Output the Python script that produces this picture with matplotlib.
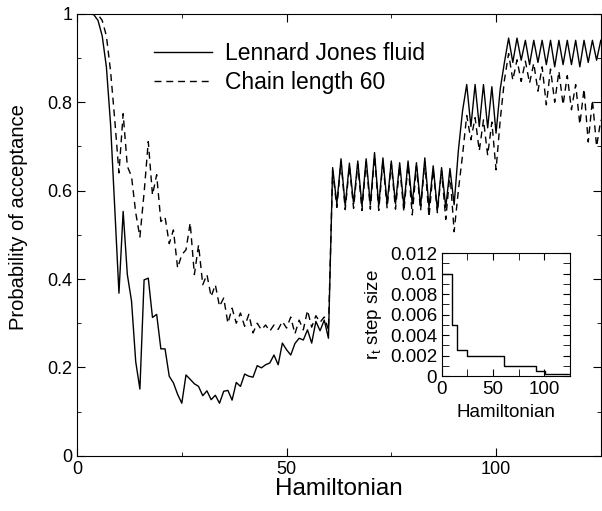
import numpy as np
import matplotlib
matplotlib.use('Agg')
import matplotlib.pyplot as plt
from matplotlib.ticker import MultipleLocator, FixedLocator, FixedFormatter

plt.rcParams['font.family'] = ['Liberation Sans', 'DejaVu Sans']

# acceptance probability vs Hamiltonian index (0..125)
hamiltonian = list(range(126))

lj_fluid = [
    1.0, 1.0, 1.0, 1.0, 0.998, 0.985, 0.95, 0.88, 0.75, 0.56,
    0.368, 0.553, 0.41, 0.35, 0.213, 0.151, 0.398, 0.402, 0.313, 0.32,
    0.242, 0.242, 0.18, 0.165, 0.139, 0.119, 0.183, 0.173, 0.163, 0.157,
    0.136, 0.147, 0.127, 0.137, 0.119, 0.146, 0.148, 0.126, 0.166, 0.157,
    0.185, 0.18, 0.178, 0.204, 0.199, 0.206, 0.21, 0.228, 0.206, 0.255,
    0.24, 0.228, 0.254, 0.266, 0.262, 0.285, 0.255, 0.304, 0.283, 0.307,
    0.266, 0.652, 0.57, 0.672, 0.565, 0.662, 0.57, 0.667, 0.565, 0.672,
    0.568, 0.686, 0.565, 0.674, 0.57, 0.667, 0.57, 0.663, 0.565, 0.667,
    0.57, 0.663, 0.565, 0.674, 0.562, 0.656, 0.556, 0.652, 0.562, 0.65,
    0.568, 0.69, 0.78, 0.84, 0.745, 0.84, 0.745, 0.84, 0.742, 0.835,
    0.73, 0.83, 0.89, 0.945, 0.89, 0.945, 0.895, 0.94, 0.885, 0.94,
    0.89, 0.94, 0.885, 0.94, 0.88, 0.94, 0.885, 0.94, 0.885, 0.94,
    0.88, 0.94, 0.89, 0.94, 0.895, 0.94,
]

chain_60 = [
    1.0, 1.0, 1.0, 1.0, 1.0, 0.998, 0.985, 0.95, 0.87, 0.76,
    0.64, 0.774, 0.655, 0.632, 0.55, 0.495, 0.595, 0.711, 0.59, 0.636,
    0.53, 0.54, 0.48, 0.511, 0.425, 0.455, 0.466, 0.527, 0.41, 0.477,
    0.387, 0.41, 0.36, 0.387, 0.338, 0.357, 0.30, 0.334, 0.30, 0.323,
    0.293, 0.32, 0.278, 0.30, 0.285, 0.296, 0.282, 0.296, 0.286, 0.304,
    0.289, 0.314, 0.276, 0.307, 0.285, 0.329, 0.291, 0.317, 0.302, 0.314,
    0.285, 0.645, 0.562, 0.665, 0.557, 0.655, 0.56, 0.66, 0.555, 0.665,
    0.558, 0.678, 0.555, 0.666, 0.56, 0.66, 0.558, 0.655, 0.552, 0.66,
    0.545, 0.655, 0.555, 0.665, 0.54, 0.648, 0.55, 0.645, 0.535, 0.64,
    0.507, 0.6, 0.68, 0.77, 0.715, 0.765, 0.69, 0.76, 0.68, 0.755,
    0.647, 0.76, 0.85, 0.91, 0.85, 0.896, 0.847, 0.893, 0.843, 0.888,
    0.825, 0.88, 0.794, 0.875, 0.8, 0.87, 0.794, 0.86, 0.783, 0.84,
    0.75, 0.83, 0.71, 0.805, 0.70, 0.76,
]

# inset: r_t step size schedule
step_h = [0, 10, 15, 25, 61, 92, 101, 125]
step_r = [0.01, 0.005, 0.0025, 0.002, 0.001, 0.0005, 0.0002, 0.0002]

fig = plt.figure(figsize=(6.02, 5.11), dpi=100)
ax = fig.add_axes([0.128, 0.108, 0.870, 0.865])

ax.plot(hamiltonian, lj_fluid, color='black', lw=1.0, label='Lennard Jones fluid')
ax.plot(hamiltonian, chain_60, color='black', lw=1.0, dashes=(5, 3.5), label='Chain length 60')

ax.set_xlim(0, 125)
ax.set_ylim(0, 1)
ax.xaxis.set_major_locator(FixedLocator([0, 50, 100]))
ax.xaxis.set_minor_locator(MultipleLocator(25))
ax.yaxis.set_major_locator(FixedLocator([0, 0.2, 0.4, 0.6, 0.8, 1.0]))
ax.yaxis.set_major_formatter(FixedFormatter(['0', '0.2', '0.4', '0.6', '0.8', '1']))
ax.yaxis.set_minor_locator(MultipleLocator(0.1))
ax.tick_params(which='both', direction='in', top=True, right=True, labelsize=13)
ax.tick_params(which='major', length=6)
ax.tick_params(which='minor', length=3)
ax.set_xlabel('Hamiltonian', fontsize=17.5, labelpad=0)
ax.set_ylabel('Probability of acceptance', fontsize=14.5)
ax.yaxis.set_label_coords(-0.093, 0.54)

ax.legend(loc='upper left', bbox_to_anchor=(0.13, 0.958), frameon=False, fontsize=16.5,
          handlelength=2.5, handletextpad=0.6, labelspacing=0.3, borderaxespad=0)

# inset
ins = fig.add_axes([0.734, 0.264, 0.2126, 0.2407])
ins.plot(step_h, step_r, color='black', lw=1.0, drawstyle='steps-post')
ins.set_xlim(0, 125)
ins.set_ylim(0, 0.012)
ins.xaxis.set_major_locator(FixedLocator([0, 50, 100]))
ins.xaxis.set_minor_locator(MultipleLocator(25))
ins.yaxis.set_major_locator(FixedLocator([0, 0.002, 0.004, 0.006, 0.008, 0.01, 0.012]))
ins.yaxis.set_major_formatter(FixedFormatter(['0', '0.002', '0.004', '0.006', '0.008', '0.01', '0.012']))
ins.yaxis.set_minor_locator(MultipleLocator(0.001))
ins.tick_params(which='both', direction='in', top=True, right=True, labelsize=13.5)
ins.tick_params(which='major', length=5)
ins.tick_params(which='minor', length=5)
ins.set_xlabel('Hamiltonian', fontsize=13.5)
ins.set_ylabel('$\\mathregular{r_t}$ step size', fontsize=13.5)

fig.savefig('out.png', dpi=100)
